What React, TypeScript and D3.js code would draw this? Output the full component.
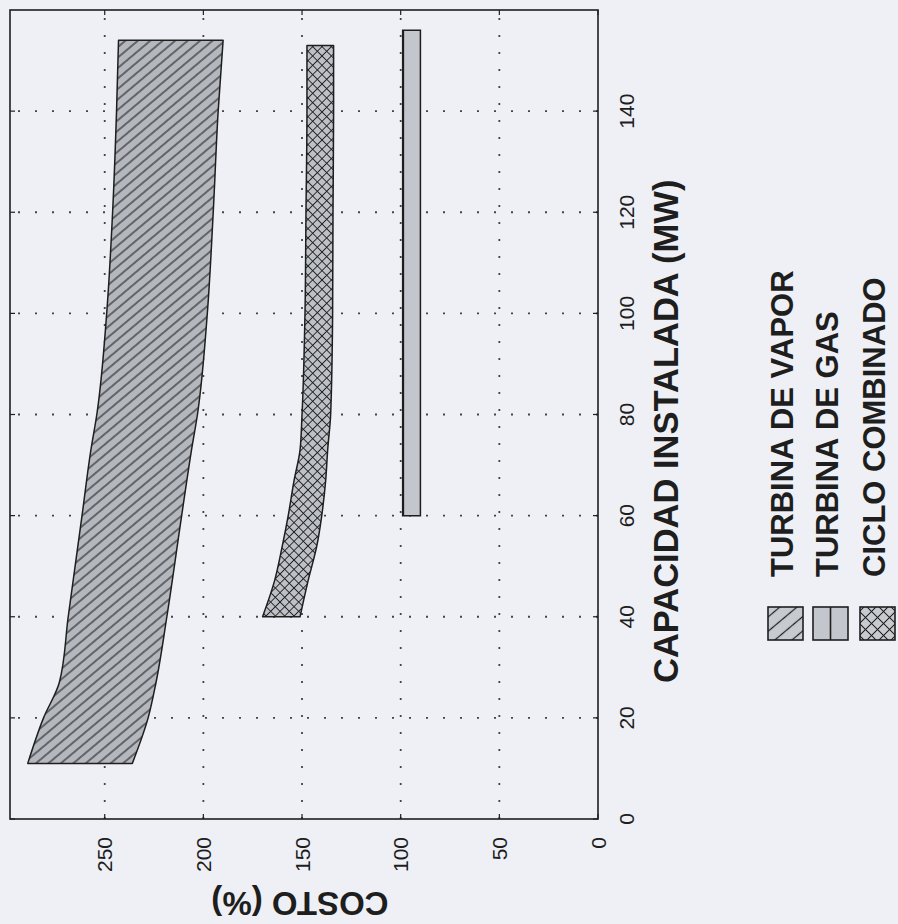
import React from "react";
import * as d3 from "d3";

// ---------- data ----------
const capacityTicks = [0, 20, 40, 60, 80, 100, 120, 140];
const costTicks = [0, 50, 100, 150, 200, 250];

const vaporCapacity = [11, 20, 27, 40, 60, 73, 80, 100, 120, 140, 154];
const vaporCostHigh = [289, 281, 273, 268.5, 261.5, 257, 254, 249, 246, 244, 243];
const vaporCostLow = [236, 228, 224, 218.5, 211, 206, 203, 198, 195, 192.5, 190];

const cicloCapacity = [40, 47, 54, 60, 67, 73, 80, 100, 120, 140, 153];
const cicloCostHigh = [170, 164, 160, 157, 154, 151, 150, 148.5, 148, 147.5, 147.5];
const cicloCostLow = [151, 147, 142.5, 140, 138, 137, 135.5, 134.5, 134.3, 134, 134];

const gasCapacity = [60, 156];
const gasCostHigh = [99, 99];
const gasCostLow = [90, 90];

const legendLabels = ["TURBINA DE VAPOR", "TURBINA DE GAS", "CICLO COMBINADO"];
const xTitle = "CAPACIDAD INSTALADA (MW)";
const yTitle = "COSTO (%)";

// ---------- layout ----------
const PAGE_W = 898;
const PAGE_H = 924;
// chart is drawn unrotated (u horizontal, v vertical) then rotated -90deg
const U0 = 105;
const U1 = 914;
const V0 = 10;
const V1 = 598;

const FONT = "'Liberation Sans', Arial, Helvetica, sans-serif";
const BG = "#eef0f5";
const INK = "#1e1e1e";

const xScale = d3.scaleLinear().domain([0, 160]).range([U0, U1]);
const yScale = d3.scaleLinear().domain([0, 298]).range([V1, V0]);

type Pt = { c: number; lo: number; hi: number };
const zip = (cap: number[], lo: number[], hi: number[]): Pt[] =>
  cap.map((c, i) => ({ c, lo: lo[i], hi: hi[i] }));

const areaGen = d3
  .area<Pt>()
  .x((d) => xScale(d.c))
  .y0((d) => yScale(d.lo))
  .y1((d) => yScale(d.hi))
  .curve(d3.curveMonotoneX);

const vaporPath = areaGen(zip(vaporCapacity, vaporCostLow, vaporCostHigh)) || "";
const cicloPath = areaGen(zip(cicloCapacity, cicloCostLow, cicloCostHigh)) || "";
const gasPath = areaGen(zip(gasCapacity, gasCostLow, gasCostHigh)) || "";

// legend geometry (unrotated coords)
const LEG_U = 284;
const LEG_BOX_W = 33;
const LEG_BOX_H = 35;
const LEG_V = [768, 813, 860];
const LEG_TEXT_U = 347;

export default function App() {
  const gasLineV = yScale(gasCostHigh[0]);
  return (
    <svg
      width={PAGE_W}
      height={PAGE_H}
      style={{ position: "absolute", left: 0, top: 0, background: BG }}
    >
      <defs>
        <pattern
          id="patVapor"
          patternUnits="userSpaceOnUse"
          width={8}
          height={8}
          patternTransform="rotate(50)"
        >
          <rect width={8} height={8} fill="#b4b8be" />
          <line x1={0} y1={4} x2={8} y2={4} stroke={INK} strokeWidth={1.1} />
        </pattern>
        <pattern
          id="patCiclo"
          patternUnits="userSpaceOnUse"
          width={6.6}
          height={6.6}
          patternTransform="rotate(45)"
        >
          <rect width={6.6} height={6.6} fill="#bdc1c7" />
          <line x1={0} y1={3.3} x2={6.6} y2={3.3} stroke={INK} strokeWidth={0.9} />
          <line x1={3.3} y1={0} x2={3.3} y2={6.6} stroke={INK} strokeWidth={0.9} />
        </pattern>
        <pattern
          id="patGas"
          patternUnits="userSpaceOnUse"
          x={0}
          y={gasLineV - 1.5}
          width={10}
          height={40}
        >
          <rect width={10} height={40} fill="#c3c6cc" />
          <line x1={0} y1={1.5} x2={10} y2={1.5} stroke={INK} strokeWidth={3} />
        </pattern>
        <pattern
          id="legVapor"
          patternUnits="userSpaceOnUse"
          width={11}
          height={11}
          patternTransform="rotate(50)"
        >
          <rect width={11} height={11} fill="#c7cacf" />
          <line x1={0} y1={5.5} x2={11} y2={5.5} stroke={INK} strokeWidth={1.2} />
        </pattern>
        <pattern
          id="legGas"
          patternUnits="userSpaceOnUse"
          x={0}
          y={LEG_V[1]}
          width={10}
          height={LEG_BOX_H}
        >
          <rect width={10} height={LEG_BOX_H} fill="#c3c6cc" />
          <line x1={0} y1={LEG_BOX_H / 2} x2={10} y2={LEG_BOX_H / 2} stroke={INK} strokeWidth={1.6} />
        </pattern>
        <pattern
          id="legCiclo"
          patternUnits="userSpaceOnUse"
          width={8.5}
          height={8.5}
          patternTransform="rotate(45)"
        >
          <rect width={8.5} height={8.5} fill="#c7cacf" />
          <line x1={0} y1={4.25} x2={8.5} y2={4.25} stroke={INK} strokeWidth={1} />
          <line x1={4.25} y1={0} x2={4.25} y2={8.5} stroke={INK} strokeWidth={1} />
        </pattern>
      </defs>

      <rect x={0} y={0} width={PAGE_W} height={PAGE_H} fill={BG} />

      <g transform={`translate(0, ${PAGE_H}) rotate(-90)`} fontFamily={FONT}>
        {/* grid lines */}
        {capacityTicks
          .filter((t) => t > 0)
          .map((t) => (
            <line
              key={"gx" + t}
              x1={xScale(t)}
              x2={xScale(t)}
              y1={V1}
              y2={V0}
              stroke="#444"
              strokeWidth={1.8}
              strokeDasharray="2 15"
            />
          ))}
        {costTicks
          .filter((t) => t > 0)
          .map((t) => (
            <line
              key={"gy" + t}
              x1={U0}
              x2={U1}
              y1={yScale(t)}
              y2={yScale(t)}
              stroke="#444"
              strokeWidth={1.8}
              strokeDasharray="2 15"
            />
          ))}

        {/* tick marks on the frame */}
        {capacityTicks.map((t) => (
          <g key={"tx" + t}>
            <line x1={xScale(t)} x2={xScale(t)} y1={V1} y2={V1 - 5} stroke={INK} strokeWidth={1.2} />
            <line x1={xScale(t)} x2={xScale(t)} y1={V0} y2={V0 + 5} stroke={INK} strokeWidth={1.2} />
          </g>
        ))}
        {costTicks.map((t) => (
          <g key={"ty" + t}>
            <line x1={U0} x2={U0 + 5} y1={yScale(t)} y2={yScale(t)} stroke={INK} strokeWidth={1.2} />
            <line x1={U1} x2={U1 - 5} y1={yScale(t)} y2={yScale(t)} stroke={INK} strokeWidth={1.2} />
          </g>
        ))}

        {/* bands */}
        <path d={vaporPath} fill="url(#patVapor)" stroke={INK} strokeWidth={1.5} strokeLinejoin="round" />
        <path d={cicloPath} fill="url(#patCiclo)" stroke={INK} strokeWidth={1.5} strokeLinejoin="round" />
        <path d={gasPath} fill="url(#patGas)" stroke={INK} strokeWidth={1.5} />

        {/* frame */}
        <rect
          x={U0}
          y={V0}
          width={U1 - U0}
          height={V1 - V0}
          fill="none"
          stroke={INK}
          strokeWidth={1.6}
        />

        {/* capacity tick labels */}
        {capacityTicks.map((t) => (
          <text
            key={"lx" + t}
            x={xScale(t)}
            y={634}
            textAnchor="middle"
            fontSize={21}
            fill={INK}
          >
            {t}
          </text>
        ))}
        {/* cost tick labels */}
        {costTicks.map((t) => (
          <text
            key={"ly" + t}
            x={87}
            y={yScale(t)}
            dy="0.36em"
            textAnchor="end"
            fontSize={21}
            fill={INK}
          >
            {t}
          </text>
        ))}

        {/* axis titles */}
        <text x={241} y={678} fontSize={34.5} fontWeight="bold" fill={INK}>
          {xTitle}
        </text>
        <text
          transform="translate(32, 300) rotate(-90)"
          textAnchor="middle"
          fontSize={33}
          fontWeight="bold"
          fill={INK}
        >
          {yTitle}
        </text>

        {/* legend */}
        {legendLabels.map((lab, i) => (
          <g key={lab}>
            <rect
              x={LEG_U}
              y={LEG_V[i]}
              width={LEG_BOX_W}
              height={LEG_BOX_H}
              fill={["url(#legVapor)", "url(#legGas)", "url(#legCiclo)"][i]}
              stroke={INK}
              strokeWidth={1.6}
            />
            <text
              x={LEG_TEXT_U}
              y={LEG_V[i] + LEG_BOX_H - 10}
              fontSize={31}
              fontWeight="bold"
              fill={INK}
            >
              {lab}
            </text>
          </g>
        ))}
      </g>
    </svg>
  );
}
